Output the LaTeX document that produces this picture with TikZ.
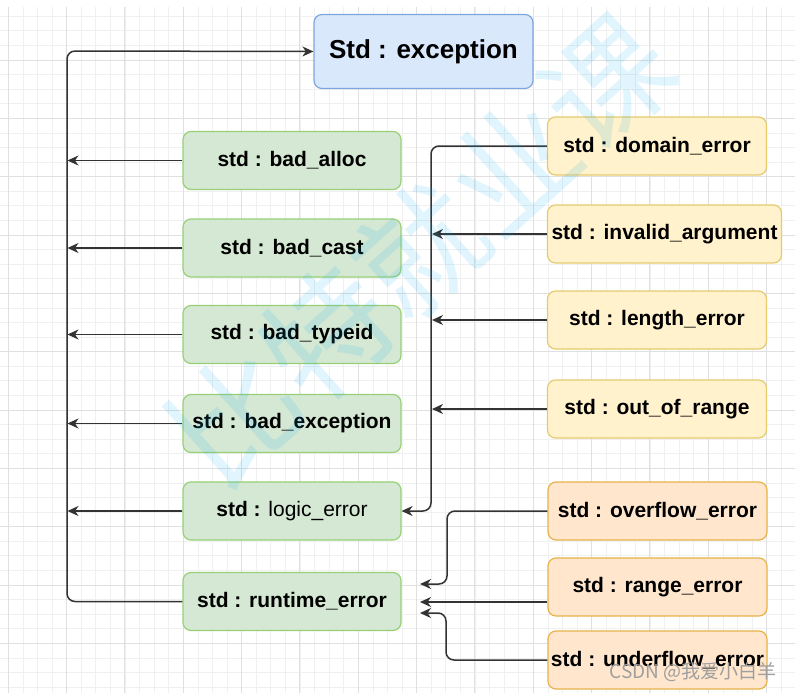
\documentclass[tikz,border=0pt]{standalone}
\usepackage{fontspec}
\setmainfont{Liberation Sans}
\newfontfamily\cjk{Noto Sans CJK SC}
\usetikzlibrary{arrows.meta}

\definecolor{rootfill}{HTML}{DAE8FC}
\definecolor{rootdraw}{HTML}{7EA6E0}
\definecolor{greenfill}{HTML}{D5E8D4}
\definecolor{greendraw}{HTML}{97D077}
\definecolor{yellowfill}{HTML}{FFF2CC}
\definecolor{yellowdraw}{HTML}{E6CB6E}
\definecolor{orangefill}{HTML}{FFE6CC}
\definecolor{orangedraw}{HTML}{E8B24A}
\definecolor{gridminor}{HTML}{F0F0F0}
\definecolor{gridmajor}{HTML}{E0E0E0}
\definecolor{linecol}{HTML}{333333}

\tikzset{
  box/.style={draw, rounded corners=8pt, line width=1.2pt, minimum height=58pt,
    inner sep=0pt, font=\bfseries\fontsize{21}{25}\selectfont},
  rootbox/.style={box, fill=rootfill, draw=rootdraw, minimum width=219pt,
    minimum height=74pt, font=\bfseries\fontsize{26}{30}\selectfont},
  greenbox/.style={box, fill=greenfill, draw=greendraw, minimum width=218pt},
  yellowbox/.style={box, fill=yellowfill, draw=yellowdraw, minimum width=219pt},
  orangebox/.style={box, fill=orangefill, draw=orangedraw, minimum width=219pt},
  conn/.style={draw=linecol, line width=1.5pt, rounded corners=8pt,
    -{Stealth[length=11pt,width=10pt,inset=3.5pt]}},
}

\begin{document}
\begin{tikzpicture}[x=1pt,y=-1pt]

\useasboundingbox (0,0) rectangle (795,693) ;
\fill[white] (0,0) rectangle (795,693) ;
\clip (0,0) rectangle (795,693) ;

% grid
\foreach \i in {0,...,58}
  \draw[gridminor, line width=0.8pt] ({-50+\i*14.583},7) -- ++(0,686) ;
\foreach \j in {1,...,47}
  \draw[gridminor, line width=0.8pt] (0,{1.7+\j*14.583}) -- ++(795,0) ;
\foreach \i in {0,...,13}
  \draw[gridmajor, line width=1pt] ({8.3+\i*58.33},7) -- ++(0,686) ;
\foreach \j in {1,...,11}
  \draw[gridmajor, line width=1pt] (0,{1.7+\j*58.33}) -- ++(795,0) ;

% boxes
\node[rootbox] (exception) at (423.5,51.5) {Std : exception} ;

\node[greenbox] (badalloc) at (292,160.5) {std : bad\_alloc} ;
\node[greenbox] (badcast) at (292,248) {std : bad\_cast} ;
\node[greenbox] (badtypeid) at (292,334.5) {std : bad\_typeid} ;
\node[greenbox] (badexception) at (292,423.5) {std : bad\_exception} ;
\node[greenbox] (logic) at (292,511) {std : {\mdseries logic\_error}} ;
\node[greenbox] (runtime) at (292,601.5) {std : runtime\_error} ;

\node[yellowbox] (domain) at (657,146) {std : domain\_error} ;
\node[yellowbox, minimum width=234pt] (invalid) at (664.5,234) {std : invalid\_argument} ;
\node[yellowbox] (length) at (657,320) {std : length\_error} ;
\node[yellowbox] (outofrange) at (657,409) {std : out\_of\_range} ;

\node[orangebox] (overflow) at (657.5,511) {std : overflow\_error} ;
\node[orangebox] (range) at (657.5,587) {std : range\_error} ;
\node[orangebox] (underflow) at (657.5,660) {std : underflow\_error} ;

% free ends
\coordinate (ltrunk) at (67.5,0) ;
\coordinate (rtrunk) at (432,0) ;
\coordinate (rtA) at (420,584) ;
\coordinate (rtB) at (420,602) ;
\coordinate (rtC) at (420,613) ;

% connectors
\draw[conn] (runtime.west) -| (67,51) -- (exception.west) ;
\draw[conn] (badalloc.west) -- (badalloc.west -| ltrunk) ;
\draw[conn] (badcast.west) -- (badcast.west -| ltrunk) ;
\draw[conn] (badtypeid.west) -- (badtypeid.west -| ltrunk) ;
\draw[conn] (badexception.west) -- (badexception.west -| ltrunk) ;
\draw[conn] (logic.west) -- (logic.west -| ltrunk) ;

\draw[conn] (domain.west) -| (431,511) -- (logic.east) ;
\draw[conn] (invalid.west) -- (invalid.west -| rtrunk) ;
\draw[conn] (length.west) -- (length.west -| rtrunk) ;
\draw[conn] (outofrange.west) -- (outofrange.west -| rtrunk) ;

\draw[conn] (overflow.west) -| (447,584) -- (rtA) ;
\draw[conn] (range.west |- rtB) -- (rtB) ;
\draw[conn] (underflow.west) -| (446,613) -- (rtC) ;

% watermarks
\node[text=cyan, opacity=0.12, rotate=42, font=\cjk\fontsize{125}{125}\selectfont]
  (mark) at (420,250) {比特就业课} ;
\node[text=gray!75, font=\cjk\fontsize{19}{21}\selectfont] (csdn) at (693,672) {CSDN @我爱小白羊} ;

\end{tikzpicture}
\end{document}
